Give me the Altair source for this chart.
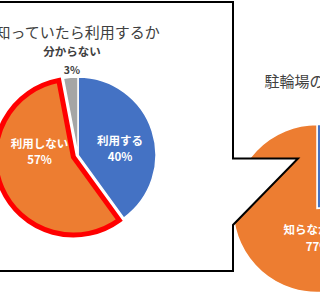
import altair as alt
import pandas as pd

# ---- data ----
left_title = "知っていたら利用するか"
left_labels = ["利用する", "利用しない", "分からない"]
left_values = [40, 57, 3]

right_title = "駐輪場の認知度"
right_labels = ["知っていた", "知らなかった"]
right_values = [23, 77]

# ---- styles / layout ----
BLUE, ORANGE, GRAY, RED = "#4472C4", "#ED7D31", "#A5A5A5", "#FF0000"
FONT = "Noto Sans CJK JP"
color_scale = alt.Scale(domain=left_labels + right_labels,
                        range=[BLUE, ORANGE, GRAY, BLUE, ORANGE])

L_CX, L_CY, L_R = 78, 155, 78
EXPLODE = (-4.6, 2.0)
R_CX, R_CY, R_R = 317, 208.5, 84

callout = [(-10, 2), (233, 2), (233, 158.5), (298, 158.5), (233, 225),
           (233, 271), (-10, 271), (-10, 2)]

label_pos = {
    "利用する": (120, 142, 158, "white", 11.5),
    "利用しない": (39.5, 145, 161, "white", 11.5),
    "分からない": (72, 53, 71, "#404040", 11.5),
    "知らなかった": (318, 231, 248, "white", 11.5),
}

left_df = pd.DataFrame({"label": left_labels, "value": left_values,
                        "order": range(len(left_labels))})
right_df = pd.DataFrame({"label": right_labels, "value": right_values,
                         "order": range(len(right_labels))})


def pie(df):
    return alt.Chart(df).transform_window(
        end="sum(value)", sort=[alt.SortField("order")], frame=[None, 0]
    ).transform_calculate(start="datum.end - datum.value")


def arcs(base, cx, cy, r, **mark):
    return base.mark_arc(radius=r, **mark).encode(
        theta=alt.Theta("start:Q", scale=alt.Scale(domain=[0, 100])),
        theta2="end:Q",
        color=alt.Color("label:N", scale=color_scale, legend=None),
        x=alt.value(cx), y=alt.value(cy),
    )


right_base = pie(right_df)
right_pie = arcs(right_base, R_CX, R_CY, R_R, stroke="white", strokeWidth=1.5)

left_base = pie(left_df)
left_rest = arcs(left_base.transform_filter(alt.datum.label != "利用しない"),
                 L_CX, L_CY, L_R, stroke="white", strokeWidth=1.5)
left_hi = arcs(left_base.transform_filter(alt.datum.label == "利用しない"),
               L_CX + EXPLODE[0], L_CY + EXPLODE[1], L_R,
               stroke=RED, strokeWidth=5, strokeJoin="miter")

poly_df = pd.DataFrame({"px": [p[0] for p in callout],
                        "py": [p[1] for p in callout],
                        "i": range(len(callout))})
callout_layer = alt.Chart(poly_df).mark_line(
    fill="white", stroke="black", strokeWidth=2, strokeJoin="miter"
).encode(
    x=alt.X("px:Q", scale=None, axis=None),
    y=alt.Y("py:Q", scale=None, axis=None),
    order="i:Q",
)

# labels: name + percentage
rows = []
for labels, values in ((left_labels, left_values), (right_labels, right_values)):
    for lab, val in zip(labels, values):
        if lab in label_pos:
            x, y1, y2, col, fs = label_pos[lab]
            rows.append({"t": lab, "px": x, "py": y1, "col": col, "fs": fs})
            rows.append({"t": f"{val}%", "px": x, "py": y2, "col": col,
                         "fs": 10.5 if val < 10 else fs})
lab_df = pd.DataFrame(rows)
labels_layer = alt.Chart(lab_df).mark_text(
    font=FONT, fontWeight="bold", baseline="middle", align="center"
).encode(
    x=alt.X("px:Q", scale=None, axis=None),
    y=alt.Y("py:Q", scale=None, axis=None),
    text="t:N",
    color=alt.Color("col:N", scale=None),
    size=alt.Size("fs:Q", scale=None),
)

title_df = pd.DataFrame({"t": [left_title, right_title],
                         "px": [77.5, 317], "py": [33, 82]})
titles_layer = alt.Chart(title_df).mark_text(
    font=FONT, fontSize=15, color="#404040", baseline="middle", align="center"
).encode(
    x=alt.X("px:Q", scale=None, axis=None),
    y=alt.Y("py:Q", scale=None, axis=None),
    text="t:N",
)

chart = alt.layer(
    right_pie, callout_layer, left_rest, left_hi, labels_layer, titles_layer
).properties(
    width=320, height=295, padding=0, autosize=alt.AutoSizeParams(type="none"),
    background="white",
).configure_view(stroke=None)

chart.save("out.html", embed_options={"renderer": "svg", "actions": False})
